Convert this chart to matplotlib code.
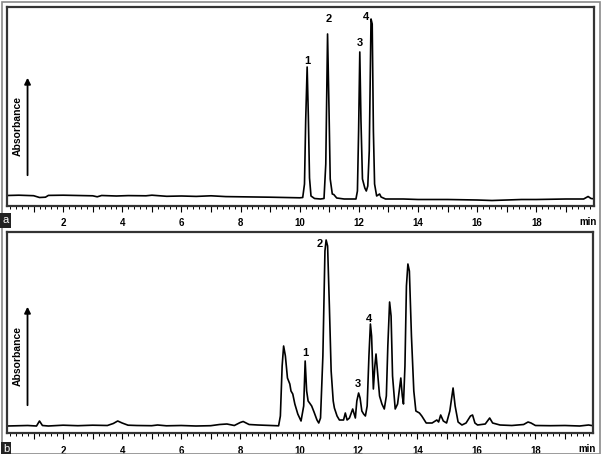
import matplotlib.pyplot as plt
from matplotlib.patches import Rectangle
from matplotlib.ticker import MultipleLocator

plt.rcParams['font.family'] = ['Liberation Sans', 'DejaVu Sans']

# chromatogram a (standards), time in min, absorbance in arbitrary units
time_a = [0.1, 0.5, 1.0, 1.2, 1.4, 1.5, 2.0, 2.5, 3.0, 3.15, 3.3, 3.8, 4.2, 4.8,
          5.0, 5.5, 6.0, 6.5, 7.0, 7.5, 8.0, 8.5, 9.0, 9.5, 10.0,
          10.10, 10.16, 10.20, 10.25, 10.29, 10.33, 10.38, 10.5, 10.7, 10.82,
          10.88, 10.94, 10.99, 11.03, 11.1, 11.15, 11.25, 11.5, 11.9,
          11.95, 11.99, 12.03, 12.07, 12.12, 12.2, 12.25, 12.3,
          12.35, 12.41, 12.45, 12.49, 12.53, 12.6, 12.7, 12.75, 12.9,
          13.5, 14.0, 15.0, 16.0, 16.5, 17.0, 17.5, 18.0, 19.0, 19.6, 19.75, 19.85, 20.0]
signal_a = [0.5, 0.8, 0.3, -1.5, -1.2, 0.6, 0.8, 0.5, 0.2, -0.8, 0.5, 0.0, 0.4, 0.2,
            0.8, -0.3, 0.0, -0.4, 0.2, -0.6, -0.8, -1.0, -1.2, -1.5, -1.8,
            -1.5, 12, 75, 129, 80, 18, 0, -2.5, -3, -2.5,
            32, 162, 85, 17, 2, 1.5, -2, -3, -3,
            5, 65, 144, 75, 17, 8, 5, 10,
            45, 177, 172, 65, 12, 0, 2, -1, -3,
            -3, -3.5, -3.5, -4, -4.5, -4, -3.5, -3.5, -3, -3, -0.5, -2.5, -3]

# chromatogram b (sample)
time_b = [0.1, 0.8, 1.1, 1.2, 1.3, 1.5, 2.0, 2.5, 3.0, 3.5, 3.7, 3.85, 4.0, 4.2,
          4.5, 5.0, 5.2, 5.5, 6.0, 6.5, 7.0, 7.3, 7.55, 7.8, 8.0, 8.1, 8.3, 8.6,
          9.0, 9.3, 9.36, 9.42, 9.47, 9.53, 9.6, 9.68, 9.72, 9.78, 9.85, 9.95,
          10.06, 10.15, 10.2, 10.25, 10.3, 10.35, 10.42, 10.5, 10.6, 10.66,
          10.72, 10.8, 10.87, 10.91, 10.96, 11.02, 11.08, 11.15, 11.19, 11.28,
          11.36, 11.5, 11.56, 11.62, 11.7, 11.81, 11.86, 11.9, 11.95, 12.01,
          12.06, 12.12, 12.18, 12.24, 12.3, 12.36, 12.41, 12.45, 12.51, 12.56,
          12.6, 12.65, 12.72, 12.8, 12.88, 12.95, 13.0, 13.06, 13.11, 13.16,
          13.25, 13.33, 13.4, 13.44, 13.49, 13.53, 13.58, 13.63, 13.68, 13.73,
          13.8, 13.88, 13.95, 14.07, 14.15, 14.3, 14.5, 14.66, 14.72, 14.79,
          14.88, 14.99, 15.1, 15.21, 15.28, 15.38, 15.51, 15.65, 15.8, 15.87,
          15.95, 16.04, 16.3, 16.45, 16.55, 16.8, 17.2, 17.6, 17.75, 17.85,
          18.0, 18.5, 19.0, 19.5, 19.8, 20.0]
signal_b = [0, 0.5, 0, 5, 0.5, 0, 0.8, 0.3, 0.8, 0.5, 2.5, 5, 3, 0.8,
            0.5, 0.3, 1, 0.2, 0.5, 0, 0.3, 1.5, 2, 0.5, 3.5, 4.5, 1.5, 1,
            0.5, 0.2, 10, 60, 80, 70, 48, 42, 35, 32, 22, 12,
            5, 20, 65, 35, 25, 23, 20, 14, 6, 3,
            8, 70, 175, 186, 180, 120, 55, 25, 18, 10,
            6, 6, 13, 6, 8, 17, 12, 8, 25, 33,
            28, 15, 12, 10, 20, 70, 102, 90, 37, 60,
            72, 55, 30, 22, 17, 30, 80, 124, 110, 50,
            17, 22, 38, 48, 30, 22, 60, 140, 162, 155,
            90, 35, 15, 13, 10, 3, 3, 6, 4, 11,
            5, 3, 15, 38, 20, 4, 1, 3, 10, 11,
            3, 1, 2, 8, 3, 1, 0.5, 1.5, 4, 3,
            0.5, 0.3, 0.5, 0, 1, 0]

peak_labels = ['1', '2', '3', '4']
label_pos_a = [(10.25, 135), (10.99, 177), (12.04, 153), (12.24, 179)]
label_pos_b = [(10.21, 73), (10.68, 182), (11.99, 42), (12.37, 107)]

fig = plt.figure(figsize=(6.02, 4.54), dpi=100)
ax_a = fig.add_axes([7 / 602, 1 - 206 / 454, 587 / 602, 199 / 454])
ax_b = fig.add_axes([7 / 602, 1 - 433 / 454, 586 / 602, 201 / 454])


def style_panel(ax, t, s, labels_pos, ylim, arrow):
    ax.plot(t, s, color='black', lw=1.2)
    ax.set_xlim(0.1, 19.95)
    ax.set_ylim(*ylim)
    ax.set_yticks([])
    ax.xaxis.set_minor_locator(MultipleLocator(0.2))
    ax.set_xticks(range(1, 20))
    ax.set_xticklabels([str(i) if i % 2 == 0 else '' for i in range(1, 20)],
                       fontsize=7, fontweight='bold')
    ax.tick_params(axis='x', which='major', direction='out', length=4, width=0.8, pad=5)
    ax.tick_params(axis='x', which='minor', direction='out', length=2, width=0.7)
    for sp in ax.spines.values():
        sp.set_linewidth(1.6)
        sp.set_color('#333333')
    for lab, (x, y) in zip(peak_labels, labels_pos):
        ax.text(x, y, lab, ha='center', va='center', fontsize=8, fontweight='bold')
    ax.text(0.99, -0.08, 'min', transform=ax.transAxes, ha='center', va='center',
            fontsize=7, fontweight='bold')
    # absorbance arrow (in axes fraction)
    y0, y1 = arrow
    ax.annotate('', xy=(0.035, y1), xytext=(0.035, y0), xycoords='axes fraction',
                arrowprops=dict(arrowstyle='-|>', color='black', lw=1.3,
                                mutation_scale=9))
    ax.text(0.018, (y0 + y1) / 2, 'Absorbance', transform=ax.transAxes, rotation=90,
            ha='center', va='center', fontsize=7.5, fontweight='bold')


style_panel(ax_a, time_a, signal_a, label_pos_a, (-10, 189),
            ((206 - 178) / 199, (206 - 75) / 199))
style_panel(ax_b, time_b, signal_b, label_pos_b, (-7, 194),
            ((433 - 408) / 201, (433 - 304) / 201))

# panel tags
fig.text(5.5 / 602, 1 - 220.5 / 454, 'a', color='white', fontsize=8, ha='center',
         va='center', bbox=dict(boxstyle='square,pad=0.2', fc='#222222', ec='none'))
fig.text(6 / 602, 1 - 449.5 / 454, 'b', color='white', fontsize=8, ha='center',
         va='center', bbox=dict(boxstyle='square,pad=0.2', fc='#222222', ec='none'))

# outer grey frame
fig.patches.append(Rectangle((1.5 / 602, 0), 598.5 / 602, 1 - 1.5 / 454,
                             transform=fig.transFigure, fill=False,
                             ec='#8a8a8a', lw=1.2))

fig.savefig('out.png', dpi=100)
